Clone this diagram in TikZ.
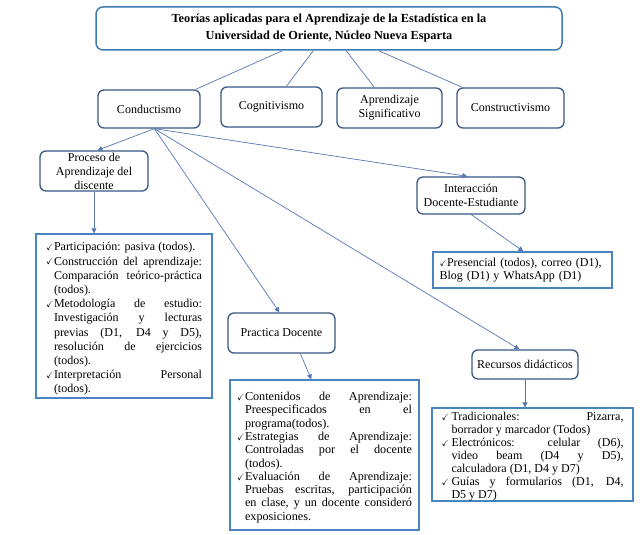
\documentclass[tikz,border=0pt]{standalone}
\usepackage{fontspec}
\usepackage{amssymb}
\setmainfont{Liberation Serif}
\usetikzlibrary{arrows.meta,calc}
\definecolor{titleblue}{HTML}{3E7BB0}
\definecolor{nodeblue}{HTML}{385883}
\definecolor{listblue}{HTML}{4A85C2}
\definecolor{lineblue}{HTML}{5577B5}
\newcommand{\chk}{\raisebox{0.05ex}{\small$\checkmark$}}
\newenvironment{chklist}[2]{\begin{list}{\chk}{\setlength{\leftmargin}{#1}\setlength{\labelwidth}{#2}\setlength{\labelsep}{0pt}\setlength{\itemsep}{0pt}\setlength{\parsep}{0pt}\setlength{\topsep}{0pt}\setlength{\partopsep}{0pt}\setlength{\itemindent}{0pt}\renewcommand{\makelabel}[1]{##1\hfill}}}{\end{list}}
\begin{document}
\begin{tikzpicture}[x=1pt,y=-1pt,
  rbox/.style={draw=nodeblue,line width=1.3pt,rounded corners=6pt,fill=white,align=center,inner sep=0pt,font=\fontsize{12}{14}\selectfont},
  lbox/.style={draw=listblue,line width=1.4pt,fill=white,inner sep=0pt,align=justify},
  conn/.style={draw=lineblue,line width=0.7pt},
  arr/.style={conn,-{Triangle[width=5pt,length=5pt]}}]
\useasboundingbox (0,0) rectangle (640,535);
% title
\node[draw=titleblue,line width=1.5pt,rounded corners=7pt,minimum width=466pt,minimum height=43pt,inner sep=0pt,align=center,font=\bfseries\fontsize{12.3}{17}\selectfont] (title) at (329,28.5) {Teorías aplicadas para el Aprendizaje de la Estadística en la\\Universidad de Oriente, Núcleo Nueva Esparta};
% level 1
\node[rbox,minimum width=102pt,minimum height=38pt] (cond) at (149,109) {Conductismo};
\node[rbox,minimum width=101pt,minimum height=40pt] (cog) at (271.5,107) {Cognitivismo};
\node[rbox,minimum width=105pt,minimum height=40pt] (sig) at (389.5,108) {Aprendizaje\\Significativo};
\node[rbox,minimum width=107pt,minimum height=40pt] (cons) at (510.5,108) {Constructivismo};
\draw[conn] ($(title.south west)+(187,0)$) -- ($(cond.north east)+(-5,0)$);
\draw[conn] ($(title.south west)+(218,0)$) -- ($(cog.north west)+(66,0)$);
\draw[conn] ($(title.south west)+(251,0)$) -- ($(sig.north west)+(38,0)$);
\draw[conn] ($(title.south west)+(283.5,0)$) -- ($(cons.north west)+(6,0)$);
% level 2
\node[rbox,minimum width=108pt,minimum height=40pt] (proc) at (94,171) {Proceso de\\Aprendizaje del\\discente};
\node[rbox,minimum width=107pt,minimum height=40pt] (prac) at (281.5,333) {Practica Docente};
\node[rbox,minimum width=108pt,minimum height=37pt] (inter) at (471,195.5) {Interacción\\Docente-Estudiante};
\node[rbox,minimum width=106pt,minimum height=29pt] (rec) at (525,364.5) {Recursos didácticos};
% lists
\node[lbox,minimum width=176pt,minimum height=164pt,text width=156pt,font=\fontsize{12}{14.2}\selectfont] (box1) at (124,316) {%
\begin{chklist}{8pt}{8pt}
\item Participación: pasiva (todos).
\item Construcción del aprendizaje:\linebreak Comparación teórico-práctica\linebreak (todos).
\item Metodología de estudio:\linebreak Investigación y lecturas\linebreak previas (D1, D4 y D5),\linebreak resolución de ejercicios\linebreak (todos).
\item Interpretación Personal\linebreak (todos).
\end{chklist}};
\node[lbox,minimum width=189pt,minimum height=150pt,text width=175pt,font=\fontsize{12.2}{13.3}\selectfont] (box2) at (324.5,455) {%
\begin{chklist}{8pt}{8pt}
\item Contenidos de Aprendizaje:\linebreak Preespecificados en el\linebreak programa(todos).
\item Estrategias de Aprendizaje:\linebreak Controladas por el docente\linebreak (todos).
\item Evaluación de Aprendizaje:\linebreak Pruebas escritas, participación\linebreak en clase, y un docente consideró\linebreak exposiciones.
\end{chklist}};
\node[lbox,minimum width=179pt,minimum height=36pt,text width=166pt,align=left,font=\fontsize{12}{12.5}\selectfont] (box3) at (522.5,270) {\chk Presencial (todos), correo (D1),\\Blog (D1) y WhatsApp (D1)};
\node[lbox,minimum width=201pt,minimum height=75pt,text width=182pt,font=\fontsize{12}{12.9}\selectfont] (box4) at (532.5,454.5) {%
\begin{chklist}{10pt}{10pt}
\item Tradicionales: Pizarra,\linebreak borrador y marcador (Todos)
\item Electrónicos: celular (D6),\linebreak video beam (D4 y D5),\linebreak calculadora (D1, D4 y D7)
\item Guías y formularios (D1, D4,\linebreak D5 y D7)
\end{chklist}};
% connectors from Conductismo
\coordinate (cs) at ($(cond.south west)+(57,0)$);
\draw[arr] (cs) -- ($(proc.north west)+(58,0)$);
\draw[arr] (cs) -- ($(prac.north west)+(52,0)$);
\draw[arr] (cs) -- ($(rec.north west)+(48,0)$);
\draw[arr] (cs) -- ($(inter.north west)+(51,0)$);
\draw[arr] (proc.south) -- (proc.south |- box1.north);
\draw[arr] ($(prac.south west)+(73,0)$) -- ($(box2.north west)+(82,0)$);
\draw[arr] ($(inter.south west)+(55,0)$) -- ($(box3.north west)+(91,0)$);
\draw[arr] (rec.south) -- (rec.south |- box4.north);
\end{tikzpicture}
\end{document}
